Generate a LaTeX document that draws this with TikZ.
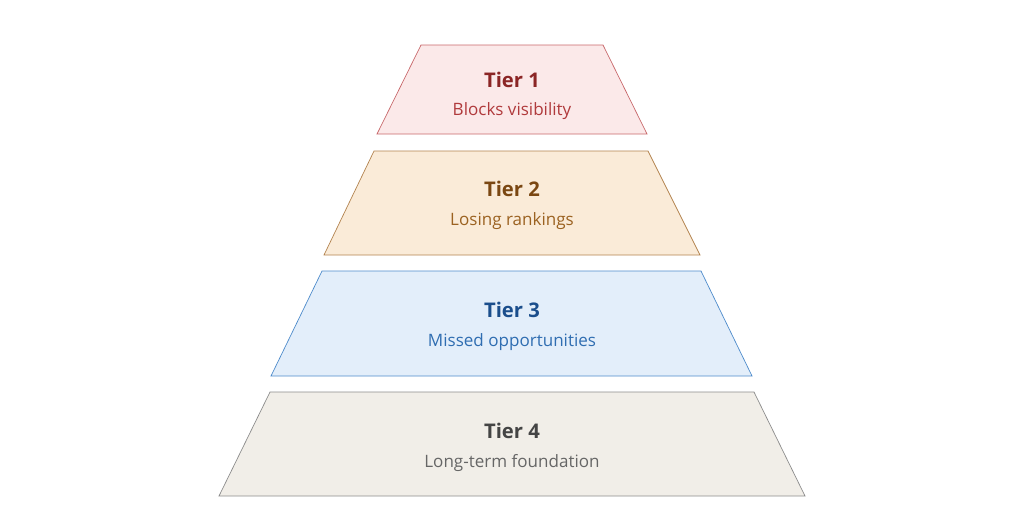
\documentclass[tikz,border=0pt]{standalone}
\usepackage{fontspec}
\setmainfont{Open Sans}
\usetikzlibrary{calc}
\definecolor{redfill}{HTML}{FBE9E9}
\definecolor{redline}{HTML}{C8686B}
\definecolor{redtitle}{HTML}{8B2525}
\definecolor{redsub}{HTML}{B03A3C}
\definecolor{orfill}{HTML}{FAEBD8}
\definecolor{orline}{HTML}{B3834F}
\definecolor{ortitle}{HTML}{7A4712}
\definecolor{orsub}{HTML}{9B6221}
\definecolor{blfill}{HTML}{E3EEFA}
\definecolor{blline}{HTML}{4E8BCB}
\definecolor{bltitle}{HTML}{1B4E8C}
\definecolor{blsub}{HTML}{2F6DB1}
\definecolor{grfill}{HTML}{F1EEE8}
\definecolor{grline}{HTML}{8C8C8C}
\definecolor{grtitle}{HTML}{444444}
\definecolor{grsub}{HTML}{666666}
\tikzset{title/.style={font=\bfseries\fontsize{11.5}{13}\selectfont},
         sub/.style={font=\fontsize{9.7}{11}\selectfont}}

\begin{document}
\begin{tikzpicture}[x=0.02cm,y=-0.02cm]
\useasboundingbox (0,0) rectangle (1024,512);
% tier 1
\draw[redline,fill=redfill] (421,45) -- (603,45) -- (647,134) -- (377,134) -- cycle;
\node[title,text=redtitle] (t1) at (512,80) {Tier 1};
\node[sub,text=redsub] (s1) at (512,111) {Blocks visibility};
% tier 2
\draw[orline,fill=orfill] (374,151) -- (648,151) -- (700,255) -- (324,255) -- cycle;
\node[title,text=ortitle] (t2) at (512,189) {Tier 2};
\node[sub,text=orsub] (s2) at (512,221) {Losing rankings};
% tier 3
\draw[blline,fill=blfill] (322,271) -- (701,271) -- (752,376) -- (271,376) -- cycle;
\node[title,text=bltitle] (t3) at (512,310) {Tier 3};
\node[sub,text=blsub] (s3) at (512,342) {Missed opportunities};
% tier 4
\draw[grline,fill=grfill] (270,392) -- (754,392) -- (805,496) -- (219,496) -- cycle;
\node[title,text=grtitle] (t4) at (512,431) {Tier 4};
\node[sub,text=grsub] (s4) at (512,463) {Long-term foundation};
\end{tikzpicture}
\end{document}
